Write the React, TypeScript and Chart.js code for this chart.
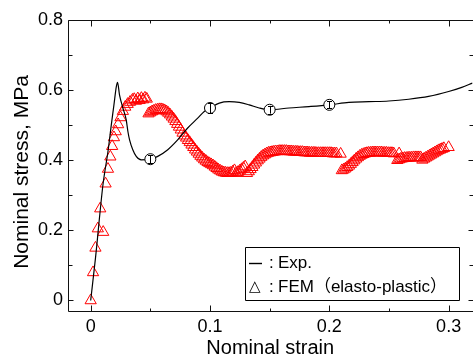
import React, { useEffect, useRef } from "react";
import { Chart, registerables } from "chart.js";

Chart.register(...registerables);

// ---- Experimental curve ----
const expStrain = [
  0, 0.004, 0.0103, 0.0145, 0.0173, 0.0195, 0.0215, 0.0225, 0.0242, 0.027,
  0.0298, 0.0312, 0.0326, 0.0353, 0.0382, 0.0424, 0.05, 0.0562, 0.0646, 0.0729,
  0.0813, 0.0897, 0.0952, 0.1, 0.1078, 0.1161, 0.1245, 0.1328, 0.1412, 0.15,
  0.1662, 0.183, 0.2, 0.2164, 0.2331, 0.2498, 0.2665, 0.2832, 0.3, 0.311, 0.32,
];
const expStress = [
  0, 0.12, 0.33, 0.425, 0.501, 0.558, 0.61, 0.622, 0.586, 0.549,
  0.515, 0.482, 0.458, 0.43, 0.411, 0.401, 0.403, 0.411, 0.43, 0.458,
  0.492, 0.52, 0.539, 0.549, 0.563, 0.567, 0.565, 0.558, 0.549, 0.544,
  0.549, 0.553, 0.558, 0.565, 0.567, 0.569, 0.574, 0.582, 0.596, 0.608, 0.62,
];

// ---- Experimental markers with error bars ----
const markStrain = [0.05, 0.1, 0.15, 0.2];
const markStress = [0.403, 0.549, 0.544, 0.558];
const markErr = [0.012, 0.015, 0.011, 0.01];

// ---- FEM (elasto-plastic) ----
const femStrain = [
  0.0, 0.002, 0.004, 0.006, 0.0105, 0.008, 0.0125, 0.0145, 0.0165, 0.018,
  0.0195, 0.021, 0.023, 0.025, 0.027, 0.029, 0.031, 0.033, 0.035,
  0.0365, 0.038, 0.0395, 0.041, 0.0425, 0.044, 0.0455, 0.047,
  0.0485, 0.05, 0.0515, 0.053, 0.0545, 0.056, 0.0575, 0.059, 0.0605, 0.062,
  0.0635, 0.065, 0.0665, 0.068, 0.0695, 0.071, 0.0725, 0.074, 0.0755, 0.077,
  0.0785, 0.08, 0.0815, 0.083, 0.0845, 0.086, 0.0875, 0.089, 0.0905, 0.092,
  0.0935, 0.095, 0.0965, 0.098, 0.0995, 0.101, 0.1025, 0.104, 0.1055, 0.107,
  0.1085, 0.11, 0.1115, 0.113, 0.1145, 0.116, 0.1175,
  0.119, 0.1205,
  0.122, 0.1235, 0.125, 0.1265, 0.128, 0.1295,
  0.131, 0.1325, 0.134, 0.1355, 0.137, 0.1385, 0.14, 0.1415, 0.143, 0.1445, 0.146, 0.1475,
  0.149, 0.1505, 0.152, 0.1535, 0.155, 0.1565, 0.158, 0.1595, 0.161, 0.1625,
  0.164, 0.1655, 0.167, 0.1685, 0.17, 0.1715, 0.173, 0.1745, 0.176, 0.1775,
  0.179, 0.1805, 0.182, 0.1835, 0.185, 0.1865, 0.188, 0.1895, 0.191, 0.1925,
  0.194, 0.1955, 0.197, 0.1985, 0.2, 0.2015, 0.203, 0.2045, 0.206,
  0.2095,
  0.2105, 0.212, 0.2135, 0.215, 0.2165, 0.218, 0.2195, 0.221, 0.2225, 0.224,
  0.2255, 0.227, 0.2285, 0.23, 0.2315, 0.233, 0.2345, 0.236, 0.2375, 0.239,
  0.2405, 0.242, 0.2435, 0.245, 0.2465, 0.248, 0.2495, 0.251, 0.2525, 0.254,
  0.2585,
  0.257, 0.2585, 0.26, 0.2615, 0.263, 0.2645, 0.266, 0.2675, 0.269, 0.2705,
  0.272, 0.2735, 0.275, 0.2765,
  0.278, 0.2795, 0.281, 0.2825, 0.284, 0.2855, 0.287, 0.2885, 0.29, 0.2915,
  0.293, 0.2945, 0.296, 0.3,
];
const femStress = [
  0.0, 0.08, 0.15, 0.205, 0.195, 0.262, 0.333, 0.375, 0.41, 0.44,
  0.465, 0.482, 0.502, 0.522, 0.54, 0.552, 0.56, 0.566, 0.572,
  0.574, 0.569, 0.576, 0.571, 0.577, 0.573, 0.578, 0.575,
  0.533, 0.536, 0.539, 0.541, 0.543, 0.544, 0.545, 0.545, 0.544, 0.542,
  0.539, 0.535, 0.53, 0.524, 0.518, 0.511, 0.503, 0.495, 0.487, 0.478,
  0.47, 0.464, 0.457, 0.451, 0.444, 0.437, 0.43, 0.424, 0.418, 0.412,
  0.407, 0.402, 0.398, 0.394, 0.391, 0.388, 0.385, 0.381, 0.377, 0.373,
  0.37, 0.367, 0.365, 0.364, 0.363, 0.363, 0.364,
  0.367, 0.371,
  0.363, 0.366, 0.37, 0.374, 0.378, 0.382,
  0.363, 0.368, 0.374, 0.38, 0.387, 0.393, 0.399, 0.404, 0.409, 0.413, 0.416, 0.419,
  0.421, 0.422, 0.423, 0.424, 0.425, 0.425, 0.426, 0.426, 0.426, 0.426,
  0.426, 0.425, 0.425, 0.425, 0.424, 0.424, 0.424, 0.423, 0.423, 0.423,
  0.422, 0.422, 0.422, 0.421, 0.421, 0.421, 0.421, 0.42, 0.42, 0.42,
  0.42, 0.42, 0.42, 0.42, 0.42, 0.42, 0.419, 0.419, 0.419,
  0.418,
  0.371, 0.373, 0.376, 0.38, 0.384, 0.389, 0.394, 0.399, 0.404, 0.408,
  0.412, 0.415, 0.417, 0.419, 0.42, 0.421, 0.421, 0.422, 0.422, 0.422,
  0.422, 0.422, 0.422, 0.421, 0.421, 0.421, 0.42, 0.42, 0.42, 0.419,
  0.419,
  0.4, 0.402, 0.404, 0.405, 0.406, 0.406, 0.407, 0.407, 0.407, 0.408,
  0.408, 0.408, 0.408, 0.408,
  0.401, 0.404, 0.407, 0.41, 0.413, 0.416, 0.419, 0.422, 0.425, 0.428,
  0.43, 0.432, 0.434, 0.437,
];

// ---- Axes ----
const xTickValues = [0, 0.05, 0.1, 0.15, 0.2, 0.25, 0.3];
const xLabelValues = [0, 0.1, 0.2, 0.3];
const yTickValues = [0, 0.1, 0.2, 0.3, 0.4, 0.5, 0.6, 0.7, 0.8];
const yLabelValues = [0, 0.2, 0.4, 0.6, 0.8];

const xTitle = "Nominal strain";
const yTitle = "Nominal stress, MPa";
const legendExp = "Exp.";
const legendFem = "FEM（elasto-plastic）";

const FONT = "'Liberation Sans', Arial, Helvetica, 'Noto Sans CJK JP', sans-serif";

export default function App() {
  const ref = useRef<HTMLCanvasElement>(null);

  useEffect(() => {
    const canvas = ref.current;
    if (!canvas) return;

    const errorBarPlugin = {
      id: "errorBars",
      afterDatasetsDraw(chart: any) {
        const { ctx, scales } = chart;
        const xs = scales.x;
        const ys = scales.y;
        ctx.save();
        ctx.strokeStyle = "#000";
        ctx.lineWidth = 1;
        ctx.beginPath();
        markStrain.forEach((sx, i) => {
          const px = Math.round(xs.getPixelForValue(sx)) + 0.5;
          const y1 = ys.getPixelForValue(markStress[i] + markErr[i]);
          const y2 = ys.getPixelForValue(markStress[i] - markErr[i]);
          ctx.moveTo(px, y1);
          ctx.lineTo(px, y2);
          ctx.moveTo(px - 2.5, Math.round(y1) + 0.5);
          ctx.lineTo(px + 2.5, Math.round(y1) + 0.5);
          ctx.moveTo(px - 2.5, Math.round(y2) + 0.5);
          ctx.lineTo(px + 2.5, Math.round(y2) + 0.5);
        });
        ctx.stroke();
        ctx.restore();
      },
    };

    const framePlugin = {
      id: "frameAndLegend",
      afterDraw(chart: any) {
        const { ctx, chartArea: a, scales } = chart;
        const xs = scales.x;
        const ys = scales.y;
        const L = Math.round(a.left) + 0.5;
        const T = Math.round(a.top) + 0.5;
        const R = Math.round(a.right) + 0.5;
        const B = Math.round(a.bottom) + 0.5;
        ctx.save();
        ctx.strokeStyle = "#111";
        ctx.lineWidth = 1;
        ctx.beginPath();
        ctx.rect(L, T, R - L, B - T);
        xTickValues.forEach((v) => {
          const px = Math.round(xs.getPixelForValue(v)) + 0.5;
          const len = xLabelValues.includes(v) ? 6 : 3;
          ctx.moveTo(px, B);
          ctx.lineTo(px, B - len);
          ctx.moveTo(px, T);
          ctx.lineTo(px, T + len);
        });
        yTickValues.forEach((v) => {
          const py = Math.round(ys.getPixelForValue(v)) + 0.5;
          const len = yLabelValues.includes(v) ? 5 : 4;
          ctx.moveTo(L, py);
          ctx.lineTo(L + len, py);
          ctx.moveTo(R, py);
          ctx.lineTo(R - len, py);
        });
        ctx.stroke();

        // Y axis title
        ctx.save();
        ctx.fillStyle = "#000";
        ctx.font = "21px " + FONT;
        ctx.translate(28, 172);
        ctx.rotate(-Math.PI / 2);
        ctx.textAlign = "center";
        ctx.textBaseline = "alphabetic";
        ctx.fillText(yTitle, 0, 0);
        ctx.restore();

        // Legend box
        ctx.fillStyle = "#fff";
        ctx.fillRect(245, 247, 214, 53);
        ctx.strokeStyle = "#000";
        ctx.beginPath();
        ctx.rect(245.5, 247.5, 214, 53);
        ctx.stroke();
        ctx.lineWidth = 1.4;
        ctx.beginPath();
        ctx.moveTo(249, 263.5);
        ctx.lineTo(262, 263.5);
        ctx.stroke();
        ctx.fillStyle = "#000";
        ctx.textBaseline = "middle";
        ctx.textAlign = "left";
        ctx.font = "17px " + FONT;
        ctx.fillText(":", 269, 263);
        ctx.fillText(legendExp, 278, 263);
        ctx.fillText(":", 269, 287);
        ctx.fillText(legendFem, 278, 287);
        ctx.font = "15px 'DejaVu Sans', sans-serif";
        ctx.fillText("△", 249, 287);
        ctx.restore();
      },
    };

    const chart = new Chart(canvas, {
      type: "scatter",
      data: {
        datasets: [
          {
            label: "marks",
            data: markStrain.map((x, i) => ({ x, y: markStress[i] })),
            pointStyle: "circle",
            pointRadius: 5.5,
            pointBorderWidth: 1,
            pointBorderColor: "#000",
            pointBackgroundColor: "#fff",
            showLine: false,
          },
          {
            label: legendExp,
            data: expStrain.map((x, i) => ({ x, y: expStress[i] })),
            showLine: true,
            borderColor: "#000",
            borderWidth: 1.2,
            pointRadius: 0,
            cubicInterpolationMode: "monotone",
          },
          {
            label: legendFem,
            data: femStrain.map((x, i) => ({ x, y: femStress[i] })),
            pointStyle: "triangle",
            pointRadius: 6.5,
            pointBorderWidth: 1,
            pointBorderColor: "#ff0000",
            pointBackgroundColor: "rgba(0,0,0,0)",
            showLine: false,
          },
        ],
      },
      options: {
        animation: false,
        responsive: false,
        devicePixelRatio: 1,
        layout: { padding: { top: 20, right: 6, left: 0, bottom: 0 } },
        plugins: {
          legend: { display: false },
          tooltip: { enabled: false },
        },
        scales: {
          x: {
            type: "linear",
            position: "bottom",
            min: -0.019,
            max: 0.32,
            grid: { display: false, drawTicks: false },
            border: { display: false },
            afterBuildTicks: (s: any) => {
              s.ticks = xTickValues.map((v) => ({ value: v }));
            },
            afterFit: (s: any) => {
              s.height = 51;
            },
            ticks: {
              autoSkip: false,
              maxRotation: 0,
              padding: 5,
              color: "#000",
              font: { family: FONT, size: 18 },
              callback: (v: any) => (xLabelValues.includes(v) ? String(v) : ""),
            },
            title: {
              display: true,
              text: xTitle,
              color: "#000",
              font: { family: FONT, size: 20 },
              padding: { top: 0, bottom: 2 },
            },
          },
          y: {
            type: "linear",
            position: "left",
            min: -0.03,
            max: 0.8,
            grid: { display: false, drawTicks: false },
            border: { display: false },
            afterBuildTicks: (s: any) => {
              s.ticks = yTickValues.map((v) => ({ value: v }));
            },
            afterFit: (s: any) => {
              s.width = 68;
            },
            ticks: {
              autoSkip: false,
              padding: 5,
              color: "#000",
              font: { family: FONT, size: 18 },
              callback: (v: any) => (yLabelValues.includes(v) ? String(v) : ""),
            },
            title: { display: false, text: yTitle },
          },
        },
      },
      plugins: [errorBarPlugin, framePlugin],
    });

    return () => chart.destroy();
  }, []);

  return (
    <div
      style={{
        position: "fixed",
        left: 0,
        top: 0,
        width: 473,
        height: 358,
        overflow: "hidden",
        background: "#fff",
      }}
    >
      <canvas ref={ref} width={480} height={362} style={{ display: "block", width: 480, height: 362 }} />
    </div>
  );
}
